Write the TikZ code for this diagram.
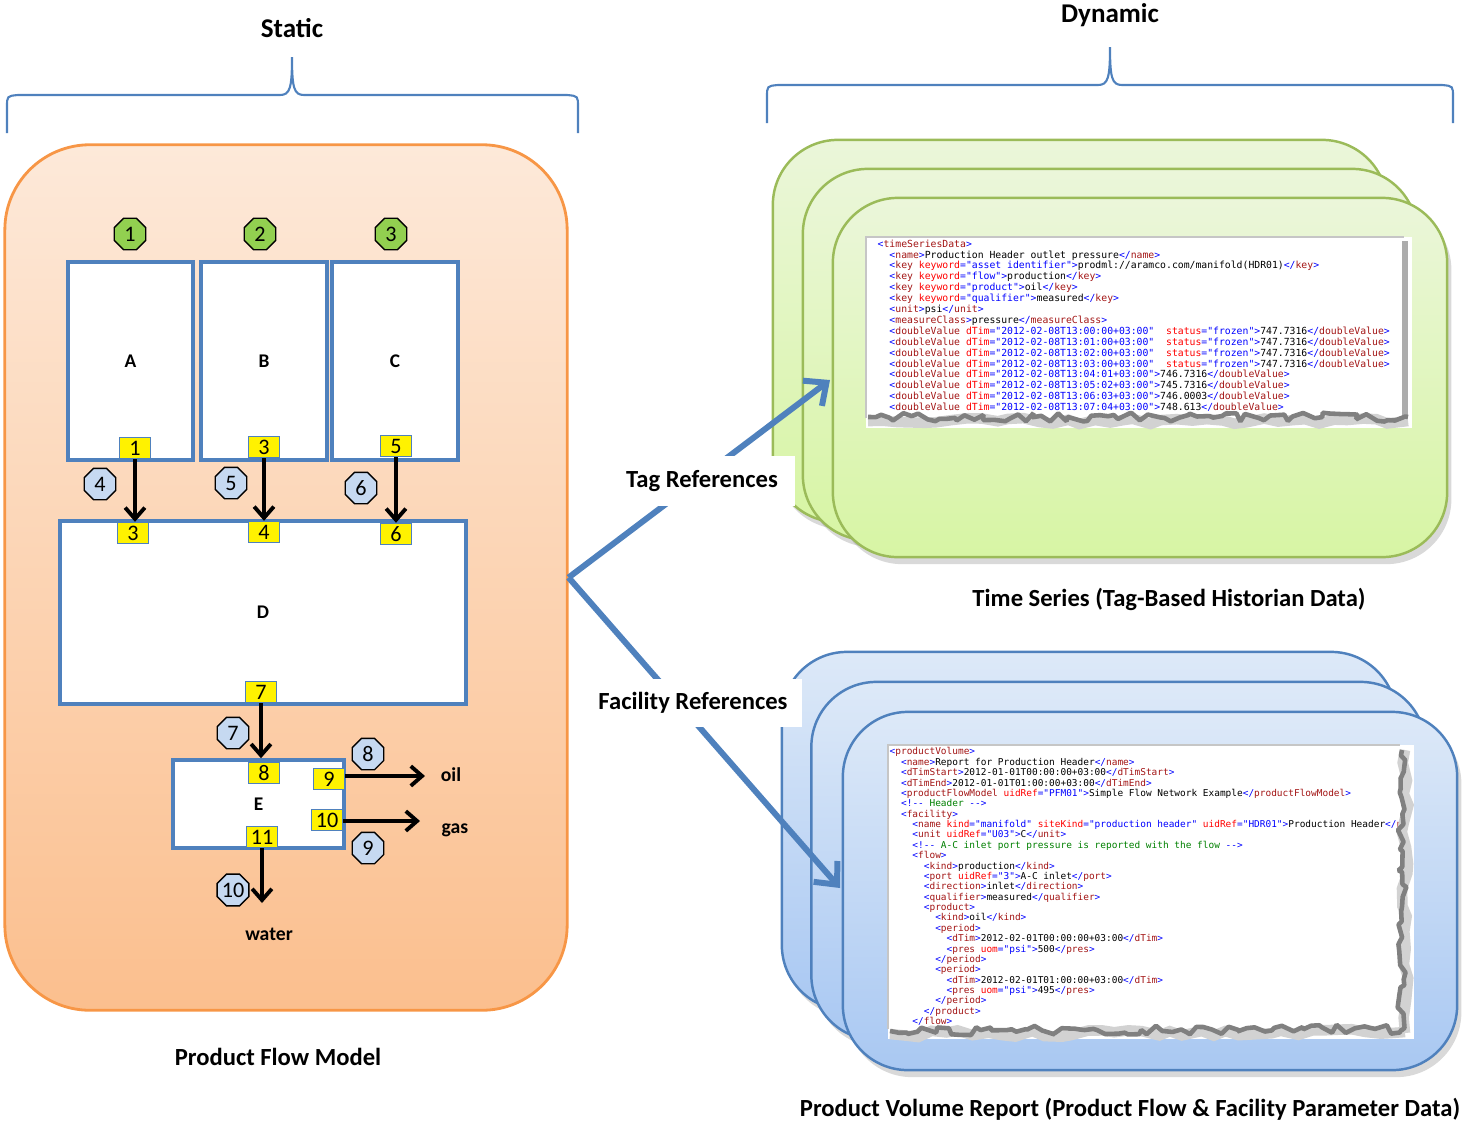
\documentclass[tikz,border=0pt]{standalone}
\usepackage{fontspec}
\setmainfont{Carlito}
\setmonofont{DejaVu Sans Mono}
\usetikzlibrary{shapes.geometric,arrows.meta,shadows,decorations.pathmorphing}

\definecolor{edgeblue}{HTML}{4F81BD}
\definecolor{orangeedge}{HTML}{F79646}
\definecolor{orangetop}{HTML}{FDE9D9}
\definecolor{orangebot}{HTML}{FBBF8E}
\definecolor{greenedge}{HTML}{9BBB59}
\definecolor{greentop}{HTML}{EBF6DA}
\definecolor{greenbot}{HTML}{D7F5A4}
\definecolor{bluetop}{HTML}{DDE9F8}
\definecolor{bluebot}{HTML}{A9C8F2}
\definecolor{octgreen}{HTML}{92D050}
\definecolor{octblue}{HTML}{C6D9F1}
\definecolor{xdel}{HTML}{0000FF}
\definecolor{xtag}{HTML}{A31515}
\definecolor{xatt}{HTML}{FF0000}
\definecolor{xcom}{HTML}{008000}

% xml markup helpers
\newcommand\xo[1]{\textcolor{xdel}{<}\textcolor{xtag}{#1}}
\newcommand\xg{\textcolor{xdel}{>}}
\newcommand\xc[1]{\textcolor{xdel}{</}\textcolor{xtag}{#1}\textcolor{xdel}{>}}
\newcommand\xa[2]{ \textcolor{xatt}{#1}\textcolor{xdel}{="#2"}}
\newcommand\xel[2]{\xo{#1}\xg#2\xc{#1}}
\newcommand\xcm[1]{\textcolor{xdel}{<!--} \textcolor{xcom}{#1} \textcolor{xdel}{-->}}
\newcommand\xind[1]{\hspace*{#1\dimexpr1.204em\relax}}

\tikzset{
  headtxt/.style={font=\bfseries\fontsize{7.7}{9}\selectfont},
  captxt/.style={font=\bfseries\fontsize{7}{8}\selectfont},
  brace/.style={draw=edgeblue, line width=0.6pt},
  flowpanel/.style={draw=orangeedge, line width=0.8pt, rounded corners=0.85cm,
    top color=orangetop, bottom color=orangebot,
    minimum width=5.62cm, minimum height=8.65cm, inner sep=0pt},
  tspanel/.style={draw=greenedge, line width=0.7pt, rounded corners=0.65cm,
    top color=greentop, bottom color=greenbot, minimum width=6.14cm, inner sep=0pt,
    drop shadow={opacity=0.3, shadow xshift=1.2pt, shadow yshift=-2pt}},
  pvpanel/.style={draw=edgeblue, line width=0.7pt, rounded corners=0.65cm,
    top color=bluetop, bottom color=bluebot, minimum width=6.14cm, inner sep=0pt,
    drop shadow={opacity=0.3, shadow xshift=1.2pt, shadow yshift=-2pt}},
  unitbox/.style={draw=edgeblue, line width=1pt, fill=white, inner sep=0pt,
    font=\bfseries\fontsize{5.5}{6}\selectfont},
  portbox/.style={draw=edgeblue, line width=0.4pt, fill=yellow, minimum width=0.31cm,
    minimum height=0.21cm, inner sep=0pt, font=\fontsize{6.3}{6.3}\selectfont},
  octbase/.style={regular polygon, regular polygon sides=8, draw=black, line width=0.4pt,
    minimum size=0.34cm, inner sep=0pt, font=\fontsize{6.3}{6.3}\selectfont},
  sourceoct/.style={octbase, fill=octgreen},
  streamoct/.style={octbase, fill=octblue},
  producttxt/.style={font=\bfseries\fontsize{5.6}{6}\selectfont},
  flowarrow/.style={draw=black, line width=1.1pt, -{Straight Barb[length=3.2pt,width=5.6pt]}},
  refarrow/.style={draw=edgeblue, line width=1.7pt, -{Straight Barb[length=5pt,width=9pt]}},
  reflabel/.style={fill=white, inner sep=0pt, font=\bfseries\fontsize{7}{8}\selectfont},
  xmltext/.style={anchor=north west, inner sep=0pt, align=left},
  tornedge/.style={draw=black!50, line width=1.3pt, line join=bevel, decorate,
    decoration={random steps, segment length=2pt, amplitude=1.3pt}},
  tornshade/.style={draw=gray!35, line width=3pt, decorate,
    decoration={random steps, segment length=4pt, amplitude=1pt}},
}

\begin{document}
\begin{tikzpicture}[x=0.01cm, y=-0.01cm]
    \pgfmathsetseed{11}
    \useasboundingbox (0,0) rectangle (1464,1130);

    % Static brace
    \draw[brace] (7,133) -- (7,107) .. controls (7,96) .. (18,95) -- (280,95)
        .. controls (290,95) and (292,88) .. (292,57)
        .. controls (292,88) and (294,95) .. (304,95) -- (567,95)
        .. controls (578,96) .. (578,107) -- (578,133);
    \node[headtxt] (statictxt) at (292,28) {Static};
    % Dynamic brace
    \draw[brace] (767,123) -- (767,97) .. controls (767,86) .. (778,85) -- (1098,85)
        .. controls (1108,85) and (1110,78) .. (1110,47)
        .. controls (1110,78) and (1112,85) .. (1122,85) -- (1442,85)
        .. controls (1453,86) .. (1453,97) -- (1453,123);
    \node[headtxt] (dyntxt) at (1110,15) {Dynamic};

    % product flow model
    \node[flowpanel] (pfm) at (286,577.5) {};
    \node[captxt] (pfmtxt) at (278,1057) {Product Flow Model};

    % sources
    \node[sourceoct] (s1) at (130,234) {1};
    \node[sourceoct] (s2) at (260,234) {2};
    \node[sourceoct] (s3) at (391,234) {3};

    % units
    \node[unitbox, minimum width=1.25cm, minimum height=1.98cm] (uA) at (130.5,361) {A};
    \node[unitbox, minimum width=1.26cm, minimum height=1.98cm] (uB) at (264,361) {B};
    \node[unitbox, minimum width=1.26cm, minimum height=1.98cm] (uC) at (395,361) {C};
    \node[unitbox, minimum width=4.06cm, minimum height=1.83cm] (uD) at (263,612.5) {D};
    \node[unitbox, minimum width=1.71cm, minimum height=0.88cm] (uE) at (258.5,804) {E};

    % ports
    \node[portbox] (pA1) at (135,448) {1};
    \node[portbox] (pB3) at (264,447) {3};
    \node[portbox] (pC5) at (396,446) {5};
    \node[portbox] (pD3) at (133,533) {3};
    \node[portbox] (pD4) at (264,532) {4};
    \node[portbox] (pD6) at (396,534) {6};
    \node[portbox] (pD7) at (261,692) {7};
    \node[portbox] (pE8) at (264,773) {8};
    \node[portbox] (pE9) at (329,779) {9};
    \node[portbox] (pE10) at (327,820) {10};
    \node[portbox] (pE11) at (262,837) {11};

    % flows
    \draw[flowarrow] (pA1.south) -- (pA1.south |- pD3.north);
    \draw[flowarrow] (pB3.south) -- (pB3.south |- pD4.north);
    \draw[flowarrow] (pC5.south) -- (pC5.south |- pD6.north);
    \draw[flowarrow] (pD7.south) -- (pD7.south |- uE.north);
    \coordinate (oilend) at (425,776);
    \coordinate (gasend) at (420,821);
    \coordinate (waterend) at (262,903);
    \draw[flowarrow] (pE9.east |- oilend) -- (oilend);
    \draw[flowarrow] (pE10.east |- gasend) -- (gasend);
    \draw[flowarrow] (pE11.south) -- (pE11.south |- waterend);

    \node[streamoct] (f4) at (100,484) {4};
    \node[streamoct] (f5) at (231,483) {5};
    \node[streamoct] (f6) at (361,488) {6};
    \node[streamoct] (f7) at (233,733) {7};
    \node[streamoct] (f8) at (368,754) {8};
    \node[streamoct] (f9) at (368,848) {9};
    \node[streamoct] (f10) at (233,890) {10};

    \node[producttxt] (oil) at (451,775) {oil};
    \node[producttxt] (gas) at (455,830) {gas};
    \node[producttxt] (water) at (269,934) {water};

    % time series stack
    \node[tspanel, minimum height=3.82cm] (ts3) at (1080,331) {};
    \node[tspanel, minimum height=3.71cm] (ts2) at (1110,354.5) {};
    \node[tspanel, minimum height=3.59cm] (ts1) at (1140,377.5) {};
    \fill[white] (866,237) rectangle (1412,428);
    \draw[gray!45, line width=0.3pt] (866,418) -- (866,237) -- (1404,237);
    \fill[gray!65] (1402,241) rectangle (1408,418);
    \node[xmltext, font=\ttfamily\fontsize{2.78}{3.1}\selectfont] (tsxml) at (877,239) {%
      \xo{timeSeriesData}\xg\\
      \xind1\xel{name}{Production Header outlet pressure}\\
      \xind1\xo{key}\xa{keyword}{asset identifier}\xg prodml://aramco.com/manifold(HDR01)\xc{key}\\
      \xind1\xo{key}\xa{keyword}{flow}\xg production\xc{key}\\
      \xind1\xo{key}\xa{keyword}{product}\xg oil\xc{key}\\
      \xind1\xo{key}\xa{keyword}{qualifier}\xg measured\xc{key}\\
      \xind1\xel{unit}{psi}\\
      \xind1\xel{measureClass}{pressure}\\
      \xind1\xo{doubleValue}\xa{dTim}{2012-02-08T13:00:00+03:00}~\xa{status}{frozen}\xg 747.7316\xc{doubleValue}\\
      \xind1\xo{doubleValue}\xa{dTim}{2012-02-08T13:01:00+03:00}~\xa{status}{frozen}\xg 747.7316\xc{doubleValue}\\
      \xind1\xo{doubleValue}\xa{dTim}{2012-02-08T13:02:00+03:00}~\xa{status}{frozen}\xg 747.7316\xc{doubleValue}\\
      \xind1\xo{doubleValue}\xa{dTim}{2012-02-08T13:03:00+03:00}~\xa{status}{frozen}\xg 747.7316\xc{doubleValue}\\
      \xind1\xo{doubleValue}\xa{dTim}{2012-02-08T13:04:01+03:00}\xg 746.7316\xc{doubleValue}\\
      \xind1\xo{doubleValue}\xa{dTim}{2012-02-08T13:05:02+03:00}\xg 745.7316\xc{doubleValue}\\
      \xind1\xo{doubleValue}\xa{dTim}{2012-02-08T13:06:03+03:00}\xg 746.0003\xc{doubleValue}\\
      \xind1\xo{doubleValue}\xa{dTim}{2012-02-08T13:07:04+03:00}\xg 748.613\xc{doubleValue}};
    \draw[tornshade] (868,421) -- (1408,421);
    \draw[tornedge] (868,417) -- (1408,417);
    \node[captxt] (tstxt) at (1169,599) {Time Series (Tag-Based Historian Data)};

    % product volume stack
    \node[pvpanel, minimum height=3.58cm] (pv3) at (1089,831) {};
    \node[pvpanel, minimum height=3.58cm] (pv2) at (1118.5,861) {};
    \node[pvpanel, minimum height=3.58cm] (pv1) at (1150,891) {};
    \fill[white] (888,745) rectangle (1414,1039);
    \draw[gray!45, line width=0.3pt] (888,1029) -- (888,745) -- (1400,745);
    \node[xmltext, font=\ttfamily\fontsize{2.69}{2.95}\selectfont] (pvxml) at (889,747) {%
      \xo{productVolume}\xg\\
      \xind1\xel{name}{Report for Production Header}\\
      \xind1\xel{dTimStart}{2012-01-01T00:00:00+03:00}\\
      \xind1\xel{dTimEnd}{2012-01-01T01:00:00+03:00}\\
      \xind1\xo{productFlowModel}\xa{uidRef}{PFM01}\xg Simple Flow Network Example\xc{productFlowModel}\\
      \xind1\xcm{Header}\\
      \xind1\xo{facility}\xg\\
      \xind2\xo{name}\xa{kind}{manifold}\xa{siteKind}{production header}\xa{uidRef}{HDR01}\xg Production Header\textcolor{xdel}{</}\textcolor{xtag}{nam}\\
      \xind2\xo{unit}\xa{uidRef}{U03}\xg C\xc{unit}\\
      \xind2\xcm{A-C inlet port pressure is reported with the flow}\\
      \xind2\xo{flow}\xg\\
      \xind3\xel{kind}{production}\\
      \xind3\xo{port}\xa{uidRef}{3}\xg A-C inlet\xc{port}\\
      \xind3\xel{direction}{inlet}\\
      \xind3\xel{qualifier}{measured}\\
      \xind3\xo{product}\xg\\
      \xind4\xel{kind}{oil}\\
      \xind4\xo{period}\xg\\
      \xind5\xel{dTim}{2012-02-01T00:00:00+03:00}\\
      \xind5\xo{pres}\xa{uom}{psi}\xg 500\xc{pres}\\
      \xind4\xc{period}\\
      \xind4\xo{period}\xg\\
      \xind5\xel{dTim}{2012-02-01T01:00:00+03:00}\\
      \xind5\xo{pres}\xa{uom}{psi}\xg 495\xc{pres}\\
      \xind4\xc{period}\\
      \xind3\xc{product}\\
      \xind2\xc{flow}};
    \fill[white] (1404,746) rectangle (1414,1039);
    \draw[tornshade] (1405,750) -- (1405,1033);
    \draw[tornshade] (890,1034) -- (1405,1032);
    \draw[tornedge] (1402,750) -- (1402,1030);
    \draw[tornedge] (890,1031) -- (1402,1029);
    \node[captxt] (pvtxt) at (1130,1109) {Product Volume Report (Product Flow \& Facility Parameter Data)};

    % references
    \coordinate (fork) at (pfm.east);
    \coordinate (tagtip) at (830,380);
    \coordinate (factip) at (840,888);
    \draw[refarrow] (fork) -- (tagtip);
    \draw[refarrow] (fork) -- (factip);
    \node[reflabel, minimum width=1.85cm, minimum height=0.5cm] (taglbl) at (702,481) {Tag References};
    \node[reflabel, minimum width=2.17cm, minimum height=0.48cm] (faclbl) at (693,703) {Facility References};
\end{tikzpicture}
\end{document}
